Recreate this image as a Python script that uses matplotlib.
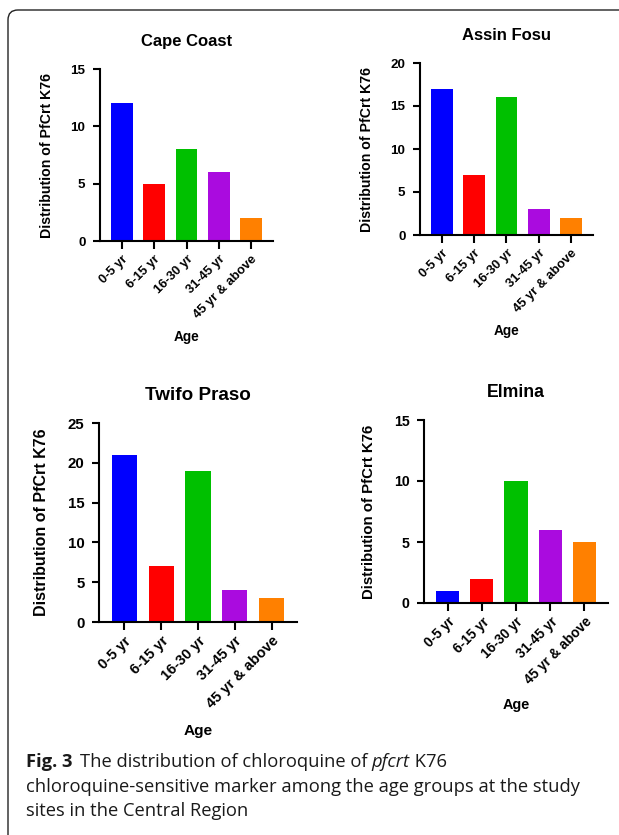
import matplotlib
matplotlib.use("Agg")
import matplotlib.pyplot as plt
from matplotlib.patches import FancyBboxPatch

plt.rcParams['font.family'] = ['Liberation Sans', 'DejaVu Sans']
plt.rcParams['font.weight'] = 'bold'

age_groups = ["0-5 yr", "6-15 yr", "16-30 yr", "31-45 yr", "45 yr & above"]
bar_colors = ["#0000FF", "#FF0000", "#00C000", "#AA0BDF", "#FF8000"]

cape_coast = [12, 5, 8, 6, 2]
assin_fosu = [17, 7, 16, 3, 2]
twifo_praso = [21, 7, 19, 4, 3]
elmina = [1, 2, 10, 6, 5]

W, H = 619, 835
fig = plt.figure(figsize=(W / 100, H / 100), dpi=100)


def px_axes(left, top, right, bottom):
    return fig.add_axes([left / W, 1 - bottom / H, (right - left) / W, (bottom - top) / H])


def panel(ax, title, values, ymax, step, scale, ylab_x, xlab_y):
    x = range(len(values))
    ax.bar(x, values, width=0.68, color=bar_colors)
    ax.set_xlim(-0.69, len(values) - 1 + 0.69)
    ax.set_ylim(0, ymax)
    ax.set_yticks(range(0, ymax + 1, step))
    ax.set_xticks(list(x))
    ax.set_xticklabels(age_groups, rotation=45, ha='right', rotation_mode='anchor',
                       fontsize=9.3 * scale, fontweight='bold')
    ax.tick_params(axis='y', labelsize=9.6 * scale, width=1.5, length=5, direction='out', pad=5.5)
    ax.tick_params(axis='x', width=1.5, length=5.5, direction='out', pad=3)
    for s in ['top', 'right']:
        ax.spines[s].set_visible(False)
    for s in ['left', 'bottom']:
        ax.spines[s].set_linewidth(1.5)
    ax.set_title(title, fontsize=12 * scale, fontweight='bold', pad=16.5)
    ax.set_ylabel("Distribution of PfCrt K76", fontsize=10.2 * scale, fontweight='bold')
    ax.yaxis.set_label_coords(ylab_x, 0.5)
    ax.set_xlabel("Age", fontsize=9.8 * scale, fontweight='bold')
    ax.xaxis.set_label_coords(0.5, xlab_y)


ax1 = px_axes(100, 69, 273, 241)
panel(ax1, "Cape Coast", cape_coast, 15, 5, 1.0, -0.266, -0.52)

ax2 = px_axes(420, 63, 593, 235)
panel(ax2, "Assin Fosu", assin_fosu, 20, 5, 1.0, -0.266, -0.52)

ax3 = px_axes(99, 423, 297, 622)
panel(ax3, "Twifo Praso", twifo_praso, 25, 5, 1.13, -0.253, -0.515)

ax4 = px_axes(424, 420, 608, 603)
panel(ax4, "Elmina", elmina, 15, 5, 1.06, -0.261, -0.52)

# rounded frame around the figure panel
frame = FancyBboxPatch((8 / W, -20 / H), (W + 40) / W, (H + 10) / H,
                       boxstyle="round,pad=0,rounding_size=0.016",
                       transform=fig.transFigure, fill=False,
                       edgecolor='#222222', linewidth=1.0,
                       mutation_aspect=W / H)
fig.patches.append(frame)

# caption
cap_font = ['Open Sans', 'DejaVu Sans']
renderer = fig.canvas.get_renderer()

# pick a size so that the second caption line is about 552 px wide
probe = fig.text(0, 0, "chloroquine-sensitive marker among the age groups at the study",
                 fontsize=12, family=cap_font, fontweight='normal')
cap_size = 12 * 552 / probe.get_window_extent(renderer).width
probe.remove()


def caption_piece(x_px, y_px, text, **kw):
    t = fig.text(x_px / W, 1 - y_px / H, text, fontsize=cap_size, family=cap_font,
                 va='baseline', ha='left', color='#1a1a1a', **kw)
    bb = t.get_window_extent(renderer)
    return bb.x1


x = caption_piece(26, 767, "Fig. 3", fontweight='bold')
x = caption_piece(x + 7, 767, "The distribution of chloroquine of ", fontweight='normal')
x = caption_piece(x, 767, "pfcrt", fontweight='normal', style='italic')
caption_piece(x, 767, " K76", fontweight='normal')
caption_piece(26, 792, "chloroquine-sensitive marker among the age groups at the study",
              fontweight='normal')
caption_piece(26, 816, "sites in the Central Region", fontweight='normal')

fig.savefig("out.png", dpi=100)
